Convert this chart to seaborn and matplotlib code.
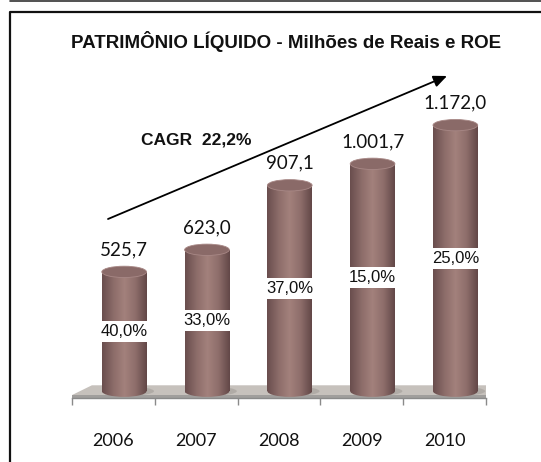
import numpy as np
import pandas as pd
import matplotlib
matplotlib.use("Agg")
import matplotlib.pyplot as plt
import seaborn as sns
from matplotlib.patches import Ellipse, Polygon, Rectangle
from matplotlib.colors import LinearSegmentedColormap
from matplotlib.lines import Line2D

# dados do grafico
anos = ["2006", "2007", "2008", "2009", "2010"]
patrimonio = [525.7, 623.0, 907.1, 1001.7, 1172.0]
roe = ["40,0%", "33,0%", "37,0%", "15,0%", "25,0%"]
rotulos_pl = ["525,7", "623,0", "907,1", "1.001,7", "1.172,0"]
titulo = "PATRIMÔNIO LÍQUIDO - Milhões de Reais e ROE"
cagr = "CAGR  22,2%"

df = pd.DataFrame({"ano": anos, "pl": patrimonio})

sns.set_style("white")
plt.rcParams["font.family"] = ["Liberation Sans", "DejaVu Sans"]

fig = plt.figure(figsize=(5.41, 4.62), dpi=100)
ax = fig.add_axes([72 / 541, 64 / 462, 414 / 541, 324.6 / 462])

sns.barplot(data=df, x="ano", y="pl", color="#977470", width=0.54, ax=ax, zorder=3)

# gradiente cilindrico
cmap = LinearSegmentedColormap.from_list(
    "cil", ["#6a4e4e", "#8c6c69", "#a3817c", "#8e6e6b", "#634848"])
grad = np.linspace(0, 1, 64).reshape(1, -1)

# piso
ax.add_patch(Polygon([(-0.5, -17), (4.5, -17), (4.76, 26), (-0.26, 26)],
                     closed=True, color="#c6c1bc", zorder=1, lw=0))
ax.add_patch(Rectangle((-0.5, -30), 5, 13, color="#a09e9c", zorder=1, lw=0))

dx = 0.13
w = 0.54
eh = 50
for i, p in enumerate(ax.patches[:len(anos)]):
    cx = i + dx
    h = patrimonio[i]
    p.set_x(cx - w / 2)
    p.set_width(w)
    p.set_facecolor("none")
    p.set_edgecolor("none")
    # sombra no piso
    ax.add_patch(Ellipse((cx + 0.05, 0), w * 1.15, eh * 0.8, color="#a8a39e",
                         alpha=0.7, lw=0, zorder=2))
    base = Ellipse((cx, 0), w, eh, lw=0, fc="none", zorder=3)
    ax.add_patch(base)
    for clip in (p, base):
        im = ax.imshow(grad, cmap=cmap, extent=(cx - w / 2, cx + w / 2, -eh, h),
                       aspect="auto", zorder=3, interpolation="bilinear")
        im.set_clip_path(clip)
    ax.add_patch(Ellipse((cx, h), w, eh, fc="#8a6a68", ec="#a88886", lw=0.6, zorder=4))
    ax.annotate(rotulos_pl[i], (cx, h), xytext=(0, 16), textcoords="offset points",
                ha="center", va="center", fontsize=13.5, family=["Lato", "DejaVu Sans"],
                color="#111111", zorder=6)
    ax.text(cx, h * 0.5, roe[i], ha="center", va="center", fontsize=12,
            color="#111111", zorder=6,
            bbox=dict(boxstyle="square,pad=0.18", fc="white", ec="none"))

ax.set_xlim(-0.5, 4.5)
ax.set_ylim(-30, 1400)
ax.set_xlabel("")
ax.set_ylabel("")
ax.set_yticks([])
ax.set_xticks(range(len(anos)))
ax.set_xticklabels(anos, family=["Lato", "DejaVu Sans"], fontsize=13, color="#111111")
ax.set_xticks(np.arange(-0.5, 5, 1), minor=True)
ax.tick_params(axis="x", which="major", length=0, pad=25)
ax.tick_params(axis="x", which="minor", length=5, color="#8a8a8a", width=1, bottom=True)
for s in ["top", "right", "left"]:
    ax.spines[s].set_visible(False)
ax.spines["bottom"].set_color("#8a8a8a")
ax.spines["bottom"].set_linewidth(1)
ax.patch.set_alpha(0)

# moldura
fig.add_artist(Line2D([9.5 / 541, 1.0], [1 - 1.2 / 462, 1 - 1.2 / 462],
                      color="#333333", lw=1.2, transform=fig.transFigure))
fig.add_artist(Line2D([10 / 541, 10 / 541, 1.0], [-0.01, 1 - 12 / 462, 1 - 12 / 462],
                      color="#111111", lw=1.6, transform=fig.transFigure))

fig.text(286 / 541, 1 - 42 / 462, titulo, ha="center", va="center", fontsize=13.5,
         fontweight="bold", color="#111111")
fig.text(196 / 541, 1 - 140 / 462, cagr, ha="center", va="center", fontsize=12.5,
         fontweight="bold", color="#111111")
ax.annotate("", xy=(447 / 541, 1 - 76 / 462), xytext=(108 / 541, 1 - 219 / 462),
            xycoords="figure fraction", textcoords="figure fraction",
            arrowprops=dict(arrowstyle="-|>,head_length=0.8,head_width=0.35",
                            color="black", lw=1.3, shrinkA=0, shrinkB=0))

fig.savefig("out.png", dpi=100)
